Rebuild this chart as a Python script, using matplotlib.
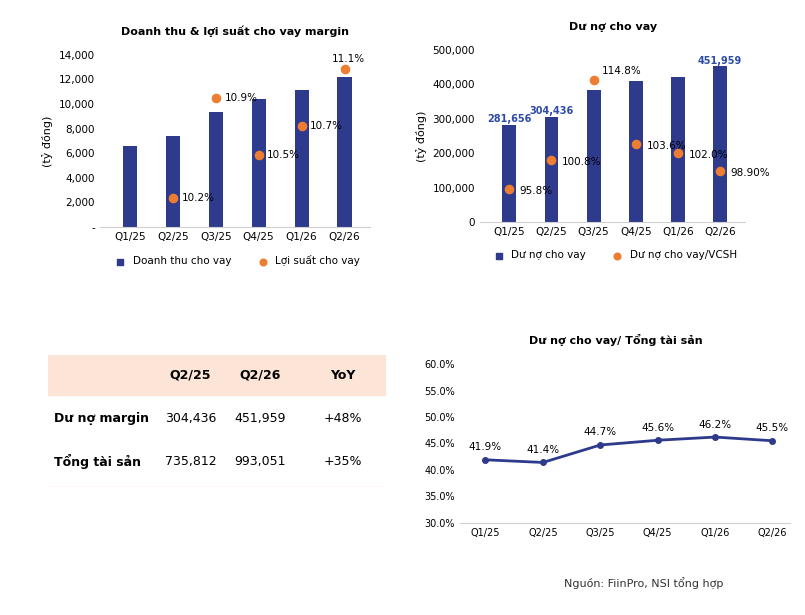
import matplotlib
matplotlib.use("Agg")
import matplotlib.pyplot as plt
from matplotlib.patches import Rectangle

quarters = ["Q1/25", "Q2/25", "Q3/25", "Q4/25", "Q1/26", "Q2/26"]
revenue = [6600, 7400, 9350, 10400, 11150, 12150]
yield_pct = [None, 10.2, 10.9, 10.5, 10.7, 11.1]
loans = [281656, 304436, 382000, 410000, 421000, 451959]
loan_labels = ["281,656", "304,436", "", "", "", "451,959"]
loan_equity = [95.8, 100.8, 114.8, 103.6, 102.0, 98.9]
loan_equity_labels = ["95.8%", "100.8%", "114.8%", "103.6%", "102.0%", "98.90%"]
loan_assets = [41.9, 41.4, 44.7, 45.6, 46.2, 45.5]
table_cols = ["Q2/25", "Q2/26", "YoY"]
table_rows = ["Dư nợ margin", "Tổng tài sản"]
table_vals = [["304,436", "451,959", "+48%"], ["735,812", "993,051", "+35%"]]

BLUE = "#2E3A8C"
ORANGE = "#ED7D31"
plt.rcParams['font.family'] = ['DejaVu Sans']
fig = plt.figure(figsize=(8.05, 6.15), dpi=100)

def clean(ax):
    for s in ["top", "right", "left"]:
        ax.spines[s].set_visible(False)
    ax.spines["bottom"].set_color("#d0d0d0")
    ax.tick_params(axis="both", length=0, labelsize=7.5)

# Chart 1
ax1 = fig.add_axes([0.124, 0.631, 0.336, 0.28])
x = range(len(quarters))
ax1.bar(x, revenue, width=0.33, color=BLUE)
ax1.set_ylim(0, 14000)
ax1.set_yticks(range(0, 14001, 2000))
ax1.set_yticklabels(["-"] + [f"{v:,}" for v in range(2000, 14001, 2000)])
ax1.set_xticks(list(x)); ax1.set_xticklabels(quarters)
ax1.set_ylabel("(tỷ đồng)", fontsize=8)
ax1.set_xlim(-0.7, 5.6)
clean(ax1)
ax1b = ax1.twinx()
ax1b.set_ylim(10.0, 11.2)
ax1b.axis("off")
for i, v in enumerate(yield_pct):
    if v is None: continue
    ax1b.scatter(i, v, s=35, color=ORANGE, zorder=3)
    if i == 5:
        ax1b.text(i + 0.1, v + 0.05, f"{v}%", fontsize=7.5, ha="center")
    else:
        ax1b.text(i + 0.2, v, f"{v}%", fontsize=7.5, va="center")
ax1.set_title("Doanh thu & lợi suất cho vay margin", fontsize=8, fontweight="bold", pad=14)
ax1.scatter([], [], marker="s", color=BLUE, label="Doanh thu cho vay")
ax1.scatter([], [], color=ORANGE, label="Lợi suất cho vay")
ax1.legend(loc="upper center", bbox_to_anchor=(0.5, -0.11), ncol=2, frameon=False,
           fontsize=7.5, handletextpad=0.2, markerscale=0.8)

# Chart 2
ax2 = fig.add_axes([0.596, 0.639, 0.33, 0.28])
ax2.bar(x, loans, width=0.33, color=BLUE)
ax2.set_ylim(0, 500000)
ax2.set_yticks(range(0, 500001, 100000))
ax2.set_yticklabels(["0"] + [f"{v:,}" for v in range(100000, 500001, 100000)])
ax2.set_xticks(list(x)); ax2.set_xticklabels(quarters)
ax2.set_ylabel("(tỷ đồng)", fontsize=8)
ax2.set_xlim(-0.7, 5.6)
clean(ax2)
for i, (v, l) in enumerate(zip(loans, loan_labels)):
    if l:
        ax2.text(i, v + 8000, l, ha="center", fontsize=7, color="#2E4BA8", fontweight="bold")
ax2b = ax2.twinx()
ax2b.set_ylim(90.1, 120)
ax2b.axis("off")
for i, (v, l) in enumerate(zip(loan_equity, loan_equity_labels)):
    ax2b.scatter(i, v, s=35, color=ORANGE, zorder=3)
    if i == 2:
        ax2b.text(i + 0.2, v + 1.5, l, fontsize=7.5, va="center")
    else:
        ax2b.text(i + 0.25, v - 0.3, l, fontsize=7.5, va="center")
ax2.set_title("Dư nợ cho vay", fontsize=8, fontweight="bold", pad=14)
ax2.scatter([], [], marker="s", color=BLUE, label="Dư nợ cho vay")
ax2.scatter([], [], color=ORANGE, label="Dư nợ cho vay/VCSH")
ax2.legend(loc="upper center", bbox_to_anchor=(0.5, -0.11), ncol=2, frameon=False,
           fontsize=7.5, handletextpad=0.2, markerscale=0.8)

# Chart 3
ax3 = fig.add_axes([0.571, 0.15, 0.41, 0.258])
ax3.plot(list(x), loan_assets, color=BLUE, lw=2, marker="o", ms=4)
ax3.set_ylim(30, 60)
ax3.set_yticks(range(30, 61, 5))
ax3.set_yticklabels([f"{v:.1f}%" for v in range(30, 61, 5)])
ax3.set_xticks(list(x)); ax3.set_xticklabels(quarters)
ax3.set_xlim(-0.45, 5.3)
clean(ax3)
ax3.tick_params(labelsize=7)
for i, v in enumerate(loan_assets):
    ax3.text(i, v + 1.8, f"{v}%", ha="center", fontsize=7.5)
fig.text(0.765, 0.44, "Dư nợ cho vay/ Tổng tài sản", ha="center", fontsize=8, fontweight="bold")
fig.text(0.70, 0.045, "Nguồn: FiinPro, NSI tổng hợp", fontsize=8, color="#333")

# Table
tax = fig.add_axes([0.06, 0.208, 0.42, 0.215])
tax.set_xlim(0, 340); tax.set_ylim(0, 130); tax.axis("off")
tax.add_patch(Rectangle((0, 91), 340, 39, color="#FCE4D6"))
tax.plot([0, 340], [0, 0], color="#ED7D31", lw=0.8)
colx = [143, 213, 296]
for cx, c in zip(colx, table_cols):
    tax.text(cx, 110, c, ha="center", va="center", fontsize=9, fontweight="bold")
rowy = [67, 25]
for ry, rn, vals in zip(rowy, table_rows, table_vals):
    tax.text(6, ry, rn, va="center", fontsize=9, fontweight="bold")
    for cx, v in zip(colx, vals):
        tax.text(cx, ry, v, ha="center", va="center", fontsize=9)

fig.savefig("out.png", dpi=100)
